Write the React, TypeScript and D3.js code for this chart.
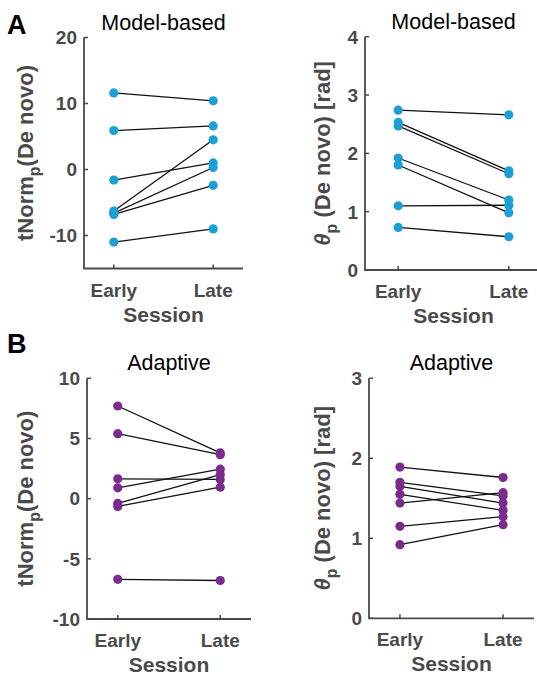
import * as d3 from "d3";
import React from "react";

// sessions on the x axis
const sessions = ["Early", "Late"];

// A: model-based
const mbTNormEarly = [11.6, 5.9, -1.6, -6.3, -6.6, -6.8, -11.0];
const mbTNormLate = [10.4, 6.6, 1.0, 4.5, 0.3, -2.4, -9.0];
const mbThetaEarly = [2.74, 2.53, 2.47, 1.92, 1.8, 1.1, 0.73];
const mbThetaLate = [2.66, 1.7, 1.65, 1.2, 0.98, 1.11, 0.57];

// B: adaptive
const adTNormEarly = [7.7, 5.4, 1.65, 0.9, -0.4, -0.65, -6.7];
const adTNormLate = [3.8, 3.65, 1.6, 2.45, 2.0, 0.95, -6.8];
const adThetaEarly = [1.89, 1.7, 1.65, 1.55, 1.44, 1.15, 0.92];
const adThetaLate = [1.76, 1.53, 1.44, 1.35, 1.57, 1.27, 1.17];

const tNormTicksA = [-10, 0, 10, 20];
const thetaTicksA = [0, 1, 2, 3, 4];
const tNormTicksB = [-10, -5, 0, 5, 10];
const thetaTicksB = [0, 1, 2, 3];

const BLUE = "#1ba0d5";
const PURPLE = "#7b2b8c";
const GREY = "#4a4a4a";
const FONT = "'Liberation Sans', Arial, Helvetica, sans-serif";

type PanelProps = {
  x0: number; x1: number; yTop: number; yBot: number;
  domain: [number, number]; ticks: number[];
  early: number[]; late: number[]; color: string;
  title: string; kind: "tnorm" | "theta"; labelX: number;
};

function Panel(p: PanelProps) {
  const x = d3.scaleLinear().domain([0.7, 2.3]).range([p.x0, p.x1]);
  const y = d3.scaleLinear().domain(p.domain).range([p.yBot, p.yTop]);
  const cx = (p.x0 + p.x1) / 2;
  const cy = (p.yTop + p.yBot) / 2;
  const line = d3.line<[number, number]>().x(d => x(d[0])).y(d => y(d[1]));

  return (
    <g>
      <text x={cx} y={p.yTop - 8} textAnchor="middle" fontSize={21.5} fill="#000">{p.title}</text>
      {/* axes */}
      <path d={`M${p.x0},${p.yTop}V${p.yBot}H${p.x1}`} fill="none" stroke={GREY} strokeWidth={1.8} />
      {p.ticks.map(t => (
        <g key={t}>
          <line x1={p.x0} x2={p.x0 + 4} y1={y(t)} y2={y(t)} stroke={GREY} strokeWidth={1.5} />
          <text x={p.x0 - 7} y={y(t)} dy="0.36em" textAnchor="end" fontSize={19} fontWeight="bold" fill={GREY}>{t}</text>
        </g>
      ))}
      {sessions.map((s, i) => (
        <g key={s}>
          <line x1={x(i + 1)} x2={x(i + 1)} y1={p.yBot} y2={p.yBot - 4} stroke={GREY} strokeWidth={1.5} />
          <text x={x(i + 1)} y={p.yBot + 28} textAnchor="middle" fontSize={19} fontWeight="bold" fill={GREY}>{s}</text>
        </g>
      ))}
      <text x={cx} y={p.yBot + 53} textAnchor="middle" fontSize={21} fontWeight="bold" fill={GREY}>Session</text>
      {/* y label */}
      <text transform={`translate(${p.labelX},${cy}) rotate(-90)`} textAnchor="middle" fontSize={22} fontWeight="bold" fill={GREY}>
        {p.kind === "tnorm" ? (
          <>
            <tspan>tNorm</tspan>
            <tspan fontSize={16} dy={7}>p</tspan>
            <tspan dy={-7}>(De novo)</tspan>
          </>
        ) : (
          <>
            <tspan fontStyle="italic">θ</tspan>
            <tspan fontSize={16} dy={7}>p</tspan>
            <tspan dy={-7}> (De novo) [rad]</tspan>
          </>
        )}
      </text>
      {/* paired lines */}
      {p.early.map((e, i) => (
        <path key={"l" + i} d={line([[1, e], [2, p.late[i]]]) || ""} fill="none" stroke="#111" strokeWidth={1.3} />
      ))}
      {p.early.map((e, i) => (
        <circle key={"e" + i} cx={x(1)} cy={y(e)} r={4.6} fill={p.color} />
      ))}
      {p.late.map((l, i) => (
        <circle key={"t" + i} cx={x(2)} cy={y(l)} r={4.6} fill={p.color} />
      ))}
    </g>
  );
}

export default function App() {
  return (
    <svg width={537} height={676} style={{ position: "absolute", left: 0, top: 0, fontFamily: FONT }}>
      <rect width={537} height={676} fill="#fff" />
      <text x={7} y={34} fontSize={27} fontWeight="bold" fill="#000">A</text>
      <text x={7} y={353} fontSize={27} fontWeight="bold" fill="#000">B</text>
      <Panel x0={84} x1={243} yTop={37.5} yBot={268.5} domain={[-15, 20]} ticks={tNormTicksA}
        early={mbTNormEarly} late={mbTNormLate} color={BLUE} title="Model-based" kind="tnorm" labelX={33} />
      <Panel x0={365} x1={542} yTop={36.7} yBot={270} domain={[0, 4]} ticks={thetaTicksA}
        early={mbThetaEarly} late={mbThetaLate} color={BLUE} title="Model-based" kind="theta" labelX={330} />
      <Panel x0={87} x1={251} yTop={378.3} yBot={619} domain={[-10, 10]} ticks={tNormTicksB}
        early={adTNormEarly} late={adTNormLate} color={PURPLE} title="Adaptive" kind="tnorm" labelX={33} />
      <Panel x0={369} x1={534} yTop={378.3} yBot={618.3} domain={[0, 3]} ticks={thetaTicksB}
        early={adThetaEarly} late={adThetaLate} color={PURPLE} title="Adaptive" kind="theta" labelX={330} />
    </svg>
  );
}
